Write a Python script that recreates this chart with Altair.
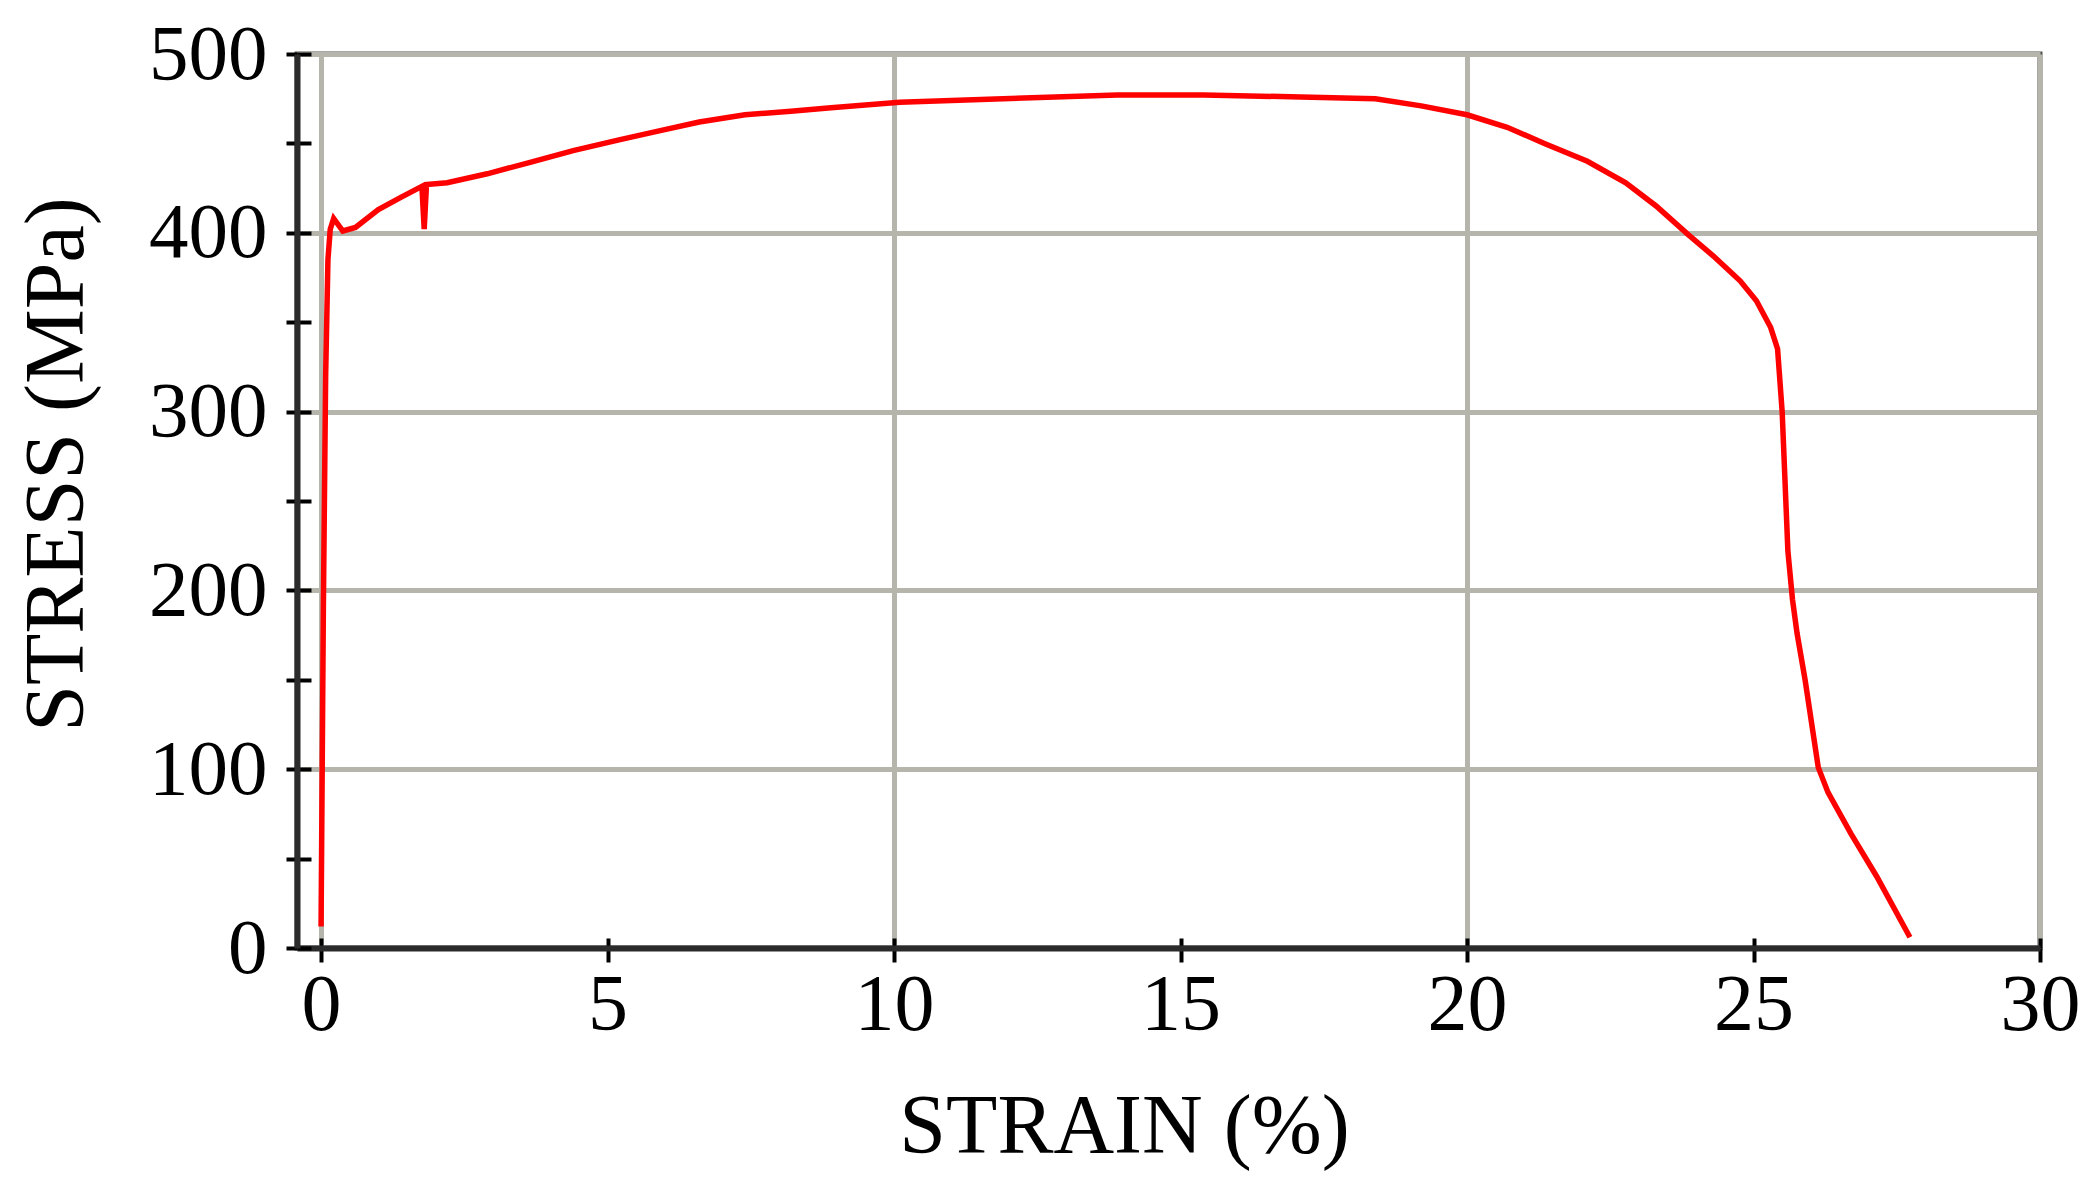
import pandas as pd
import altair as alt

# stress-strain curve
strain = [0.0, 0.04, 0.08, 0.12, 0.16, 0.22, 0.38, 0.6, 1.0, 1.4, 1.76, 1.8, 1.84,
          2.2, 2.9, 3.6, 4.4, 5.2, 5.9, 6.6, 7.4, 8.2, 8.9, 10.1, 11.9, 13.9,
          15.4, 17.1, 18.4, 19.2, 20.0, 20.7, 21.35, 22.1, 22.77, 23.3, 23.86,
          24.3, 24.77, 25.05, 25.3, 25.42, 25.5, 25.6, 25.68, 25.76, 25.9,
          26.13, 26.3, 26.7, 27.15, 27.73]
stress = [12, 190, 320, 385, 402, 408, 401, 403, 413, 420, 426, 402, 427,
          428, 433, 439, 446, 452, 457, 462, 466, 468, 470, 473, 475, 477,
          477, 476, 475, 471, 466, 459, 450, 440, 428, 415, 399,
          387, 373, 362, 347, 335, 300, 222, 195, 176, 150,
          101, 87, 64, 40, 6]

x_ticks = [0, 5, 10, 15, 20, 25, 30]
y_ticks = [0, 50, 100, 150, 200, 250, 300, 350, 400, 450, 500]

FONT = "Liberation Serif"
RED = "#ff0000"
GRID = "#b5b5ab"
AXIS_COLOR = "#2b2b2b"

df = pd.DataFrame({"strain": strain, "stress": stress, "idx": range(len(strain))})

x_scale = alt.Scale(domain=[-0.42, 30], nice=False, zero=False)
y_scale = alt.Scale(domain=[0, 500], nice=False)

base = alt.Chart(df).encode(order="idx:Q")

curve = base.mark_line(color=RED, strokeWidth=5.5).encode(
    x=alt.X(
        "strain:Q",
        scale=x_scale,
        axis=alt.Axis(
            orient="bottom",
            values=x_ticks,
            title="STRAIN (%)",
            titleX=827,
            titleY=204,
            titleAlign="center",
            titleBaseline="alphabetic",
            titleFont=FONT,
            titleFontSize=84,
            titleFontWeight="normal",
            titleColor="black",
            labelFont=FONT,
            labelFontSize=80,
            labelColor="black",
            labelPadding=4,
            labelFlush=False,
            labelOverlap=False,
            tickSize=14,
            tickWidth=4,
            tickColor="black",
            domainColor=AXIS_COLOR,
            domainWidth=6,
            grid=True,
            gridColor=GRID,
            gridWidth=5,
            gridOpacity={"condition": {"test": "datum.value % 10 === 0", "value": 1}, "value": 0},
        ),
    ),
    y=alt.Y(
        "stress:Q",
        scale=y_scale,
        axis=alt.Axis(
            orient="left",
            values=y_ticks,
            title="STRESS (MPa)",
            titleAngle=270,
            titleX=-215,
            titleY=410,
            titleAlign="center",
            titleBaseline="alphabetic",
            titleFont=FONT,
            titleFontSize=84,
            titleFontWeight="normal",
            titleColor="black",
            labelFont=FONT,
            labelFontSize=79,
            labelColor="black",
            labelPadding=19,
            labelOverlap=False,
            labelExpr="datum.value % 100 === 0 ? datum.label : ''",
            tickSize=11,
            tickWidth=4,
            tickColor="black",
            domainColor=AXIS_COLOR,
            domainWidth=6,
            grid=True,
            gridColor=GRID,
            gridWidth=5,
            gridOpacity={"condition": {"test": "datum.value % 100 === 0", "value": 1}, "value": 0},
        ),
    ),
)

# second set of ticks drawn inward so the ticks cross the axis lines
inner = base.mark_line(opacity=0).encode(
    x=alt.X(
        "strain:Q",
        scale=x_scale,
        axis=alt.Axis(orient="bottom", values=x_ticks, offset=-10, tickSize=10,
                      tickWidth=4, tickColor="black", domain=False, labels=False,
                      grid=False, title=None),
    ),
    y=alt.Y(
        "stress:Q",
        scale=y_scale,
        axis=alt.Axis(orient="left", values=y_ticks, offset=-14, tickSize=14,
                      tickWidth=4, tickColor="black", domain=False, labels=False,
                      grid=False, title=None),
    ),
)

chart = (
    alt.layer(inner, curve)
    .resolve_axis(x="independent", y="independent")
    .properties(
        width=1743,
        height=894,
        autosize=alt.AutoSizeParams(type="none"),
        padding={"left": 289, "top": 46, "right": 50, "bottom": 240},
        background="white",
    )
    .configure_view(stroke="#505050", strokeWidth=5)
)

chart.save("out.html", embed_options={"renderer": "svg", "actions": False})
